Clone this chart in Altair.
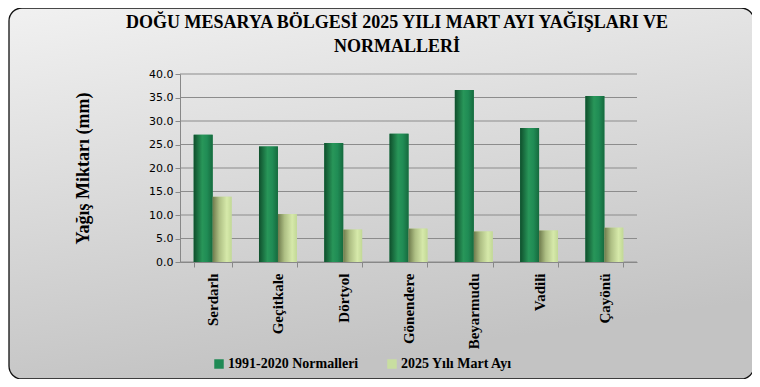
import altair as alt
import pandas as pd

stations = ["Serdarlı", "Geçitkale", "Dörtyol", "Gönendere", "Beyarmudu", "Vadili", "Çayönü"]
normals = [27.1, 24.6, 25.3, 27.3, 36.6, 28.5, 35.3]
march2025 = [13.9, 10.2, 6.9, 7.1, 6.5, 6.7, 7.3]
series_names = ["1991-2020 Normalleri", "2025 Yılı Mart Ayı"]
y_ticks = [0, 5, 10, 15, 20, 25, 30, 35, 40]
title_lines = ["DOĞU MESARYA BÖLGESİ 2025 YILI MART AYI YAĞIŞLARI VE", "NORMALLERİ"]

rows = []
for s, n, m in zip(stations, normals, march2025):
    rows.append({"station": s, "series": series_names[0], "value": n})
    rows.append({"station": s, "series": series_names[1], "value": m})
df = pd.DataFrame(rows)

W, H = 457, 188
PL, PT = 172, 66
PR = 744 - PL - W
PB = 371 - PT - H

serif = "Liberation Serif"

x_enc = alt.X("station:N", sort=stations,
              scale=alt.Scale(paddingInner=0.42, paddingOuter=0.21),
              axis=alt.Axis(title=None, labelAngle=270, labelAlign="right", labelBaseline="middle",
                            labelFont=serif, labelFontWeight="bold", labelFontSize=15,
                            labelColor="black", labelPadding=6, tickBand="extent",
                            tickColor="#888888", domainColor="#888888", tickSize=5, zindex=1))
y_scale = alt.Scale(domain=[0, 40], nice=False)
y_axis = alt.Axis(title="Yağış Miktarı (mm)", values=y_ticks, format=".1f",
                  grid=False, labelOverlap=False, labelFont="DejaVu Sans", labelFontSize=11,
                  labelColor="black", tickColor="#888888", domainColor="#888888",
                  tickSize=5, titleFont=serif, titleFontWeight="bold",
                  titleFontSize=18, titleColor="black", titlePadding=56, zindex=1)
y_enc = alt.Y("value:Q", scale=y_scale, axis=y_axis)
xoff = alt.XOffset("series:N", scale=alt.Scale(domain=series_names, paddingInner=0))

bg = alt.Chart(alt.Data(values=[{}])).mark_rect(
    cornerRadius=13, stroke="#111111", strokeWidth=1.3,
    fill=alt.LinearGradient(gradient="linear", x1=0, y1=0, x2=0.3, y2=1,
                            stops=[alt.GradientStop(offset=0, color="#f1f1f1"),
                                   alt.GradientStop(offset=1, color="#c3c3c3")])
).encode(x=alt.value(-171), x2=alt.value(574), y=alt.value(-66), y2=alt.value(305))

title = alt.Chart(alt.Data(values=[{}])).mark_text(
    text=title_lines, font=serif, fontWeight="bold", fontSize=18, color="black",
    align="center", baseline="middle", lineHeight=24
).encode(x=alt.value(217), y=alt.value(-51))

grid = alt.Chart(pd.DataFrame({"v": y_ticks})).mark_rule(color="#8c8c8c", strokeWidth=1.2).encode(
    y=alt.Y("v:Q", scale=y_scale, axis=y_axis))

legend_bars = alt.Chart(df).mark_bar().encode(
    x=x_enc, y=y_enc, xOffset=xoff,
    color=alt.Color("series:N", sort=series_names,
                    scale=alt.Scale(domain=series_names, range=["#1f8a55", "#c8dea0"]),
                    legend=alt.Legend(title=None, orient="none", direction="horizontal",
                                      legendX=32, legendY=283, symbolType="square",
                                      symbolSize=90, symbolStrokeWidth=0,
                                      labelFont=serif, labelFontWeight="bold", labelFontSize=14,
                                      labelColor="black", columnPadding=26, labelOffset=2)))

grad_norm = alt.LinearGradient(gradient="linear", x1=0, y1=0, x2=1, y2=0, stops=[
    alt.GradientStop(offset=0, color="#0f4f2c"),
    alt.GradientStop(offset=0.45, color="#289659"),
    alt.GradientStop(offset=0.7, color="#208c55"),
    alt.GradientStop(offset=1, color="#166a3e")])
grad_2025 = alt.LinearGradient(gradient="linear", x1=0, y1=0, x2=1, y2=0, stops=[
    alt.GradientStop(offset=0, color="#6e7a4c"),
    alt.GradientStop(offset=0.35, color="#aebf84"),
    alt.GradientStop(offset=0.75, color="#d6e9aa"),
    alt.GradientStop(offset=1, color="#c2d896")])

bars_n = alt.Chart(df).transform_filter(alt.datum.series == series_names[0]).mark_bar(fill=grad_norm).encode(
    x=x_enc, y=y_enc, xOffset=xoff)
bars_m = alt.Chart(df).transform_filter(alt.datum.series == series_names[1]).mark_bar(fill=grad_2025).encode(
    x=x_enc, y=y_enc, xOffset=xoff)

chart = alt.layer(bg, title, grid, legend_bars, bars_n, bars_m).properties(
    width=W, height=H,
    autosize=alt.AutoSizeParams(type="none"),
    padding={"left": PL, "top": PT, "right": PR, "bottom": PB},
    background="white"
).configure_view(stroke=None)

chart.save("out.html", embed_options={"renderer": "svg", "actions": False})
